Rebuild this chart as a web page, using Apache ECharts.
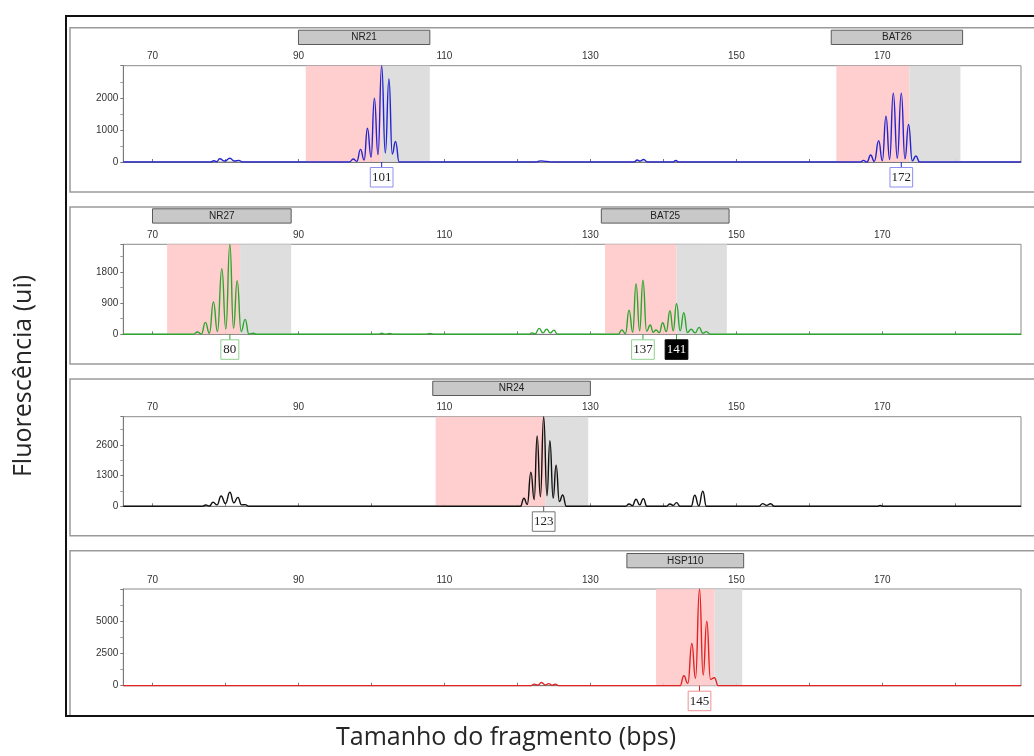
<!DOCTYPE html>
<html><head><meta charset="utf-8">
<script src="https://cdn.jsdelivr.net/npm/echarts@6/dist/echarts.min.js"></script>
<style>html,body{margin:0;padding:0;background:#fff}#c{width:1034px;height:756px}</style>
</head><body><div id="c"></div>
<script>
// ---- axis tick values ----
const xTickValues = [70, 80, 90, 100, 110, 120, 130, 140, 150, 160, 170, 180];
const xLabelValues = [70, 90, 110, 130, 150, 170];
const yMaxes = [3000, 2600, 3800, 7500];
const yIntervals = [1000, 900, 1300, 2500];

// ---- traces: [size (bp), fluorescence] ----
const blueTrace = [[66,0],[78,0],[78.4,40],[78.8,10],[79.2,100],[79.9,30],[80.6,115],[81.2,30],[81.8,50],[82.4,0],
  [97,0],[97.5,93],[98,20],[98.5,392],[99,60],[99.45,1052],[99.95,150],[100.4,1991],[100.9,230],[101.4,3000],[101.9,280],[102.4,2590],[102.85,250],[103.3,640],[103.8,0],
  [122.5,0],[123.2,35],[124,20],[124.6,0],[136,0],[136.4,60],[136.8,30],[137.3,80],[137.8,0],[141.3,0],[141.7,45],[142.1,0],
  [167,0],[167.4,50],[167.9,0],[168.4,217],[168.9,20],[169.5,660],[170,40],[170.5,1424],[171,80],[171.5,2146],[172.05,120],[172.6,2146],[173.1,100],[173.6,1166],[174.1,40],[174.6,186],[175.1,0],[189,0]];
const greenTrace = [[66,0],[75.6,0],[76.15,67],[76.7,5],[77.25,345],[77.8,30],[78.35,938],[78.9,80],[79.5,1895],[80.05,150],[80.6,2600],[81.1,170],[81.6,1551],[82.15,80],[82.7,431],[83.2,10],[83.8,30],[84.3,0],
  [101,0],[101.4,30],[101.9,0],[102.5,25],[103,0],[107.5,0],[108,25],[108.6,0],
  [121.6,0],[122,40],[122.4,10],[123,170],[123.5,40],[124,150],[124.5,40],[125,120],[125.5,0],
  [133.8,0],[134.3,124],[134.8,20],[135.3,699],[135.8,60],[136.25,1464],[136.75,100],[137.2,1560],[137.7,90],[138.2,268],[138.6,60],[139,124],[139.45,50],[139.9,335],[140.4,80],[140.9,680],[141.35,100],[141.8,890],[142.3,100],[142.8,622],[143.3,50],[143.8,144],[144.35,40],[144.9,201],[145.4,30],[145.9,77],[146.4,0],[189,0]];
const blackTrace = [[66,0],[76.8,0],[77.3,57],[77.8,10],[78.3,170],[78.85,60],[79.4,438],[80,120],[80.6,593],[81.15,150],[81.7,380],[82.2,60],[82.7,70],[83.2,0],
  [120.4,0],[120.9,340],[121.35,80],[121.85,1441],[122.3,280],[122.7,2981],[123.15,400],[123.6,3800],[124.05,450],[124.45,2783],[124.9,350],[125.3,1738],[125.75,200],[126.2,480],[126.7,0],
  [134.8,0],[135.3,100],[135.75,30],[136.25,297],[136.75,60],[137.25,325],[137.75,0],[140.4,0],[140.9,100],[141.35,40],[141.8,155],[142.3,0],
  [143.8,0],[144.3,466],[144.85,20],[145.4,636],[145.9,0],[153.1,0],[153.6,113],[154.15,40],[154.7,110],[155.2,0],[169.3,0],[169.7,40],[170.1,0],[189,0]];
const redTrace = [[66,0],[121.8,0],[122.3,120],[122.8,40],[123.3,250],[123.8,60],[124.3,160],[124.8,40],[125.2,120],[125.7,0],
  [142.3,0],[142.8,773],[143.35,180],[143.9,3273],[144.4,570],[144.95,7500],[145.45,825],[145.95,5000],[146.45,490],[147,620],[147.5,0],[189,0]];

// ---- bins: [start, end] ----
const pinkBins = [[[91,101.4],[163.7,173.7]], [[72,82],[132,141.8]], [[108.8,123.8]], [[139,147]]];
const grayBins = [[[101.4,108],[173.7,180.7]], [[82,89],[141.8,148.7]], [[123.8,129.7]], [[147,150.8]]];

// ---- marker names and ranges ----
const markerNames = [["NR21","BAT26"], ["NR27","BAT25"], ["NR24"], ["HSP110"]];
const markerRanges = [[[90,108],[163,181]], [[70,89],[131.5,149]], [[108.4,130]], [[135,151]]];

// ---- called allele labels ----
const alleleSizes = [[101.4,172.6], [80.6,137.2,141.8], [123.6], [144.95]];
const alleleTexts = [["101","172"], ["80","137","141"], ["123"], ["145"]];
const alleleInverse = [[false,false], [false,false,true], [false], [false]];

const traces = [blueTrace, greenTrace, blackTrace, redTrace];
const colors = ['#2424d0', '#2ea52e', '#111111', '#e02424'];
const boxColors = ['#8e8ef0', '#8fd08f', '#777777', '#f09090'];
const gridTops = [65.7, 244.3, 416.7, 589];
const gridHeights = [96.3, 90, 89.6, 96.7];
const frameTops = [27.7, 207, 379, 550.7];
const frameBottoms = [192, 364, 535.7, 715.7];

const grids = [], xAxes = [], yAxes = [], series = [], graphics = [];
for (let i = 0; i < 4; i++) {
  grids.push({left: 123.3, right: 13, top: gridTops[i], height: gridHeights[i], show: true, borderColor: '#8a8a8a', borderWidth: 1, backgroundColor: 'transparent'});
  xAxes.push({type: 'value', gridIndex: i, position: 'top', min: 66, max: 189,
    axisLine: {lineStyle: {color: '#7a7a7a', width: 1}},
    axisTick: {customValues: xTickValues, length: 3, lineStyle: {color: '#7a7a7a'}},
    axisLabel: {customValues: xLabelValues, fontSize: 10, color: '#333', margin: 4, fontFamily: 'Arial, Liberation Sans'},
    splitLine: {show: false}});
  yAxes.push({type: 'value', gridIndex: i, min: 0, max: yMaxes[i], interval: yIntervals[i],
    axisLine: {show: true, lineStyle: {color: '#7a7a7a', width: 1}},
    axisTick: {show: true, length: 3, lineStyle: {color: '#7a7a7a'}},
    minorTick: {show: true, splitNumber: 2, length: 3, lineStyle: {color: '#9a9a9a'}},
    axisLabel: {fontSize: 10, color: '#333', margin: 5, showMaxLabel: false, fontFamily: 'Arial, Liberation Sans', formatter: v => String(v)},
    splitLine: {show: false}});
  const areas = [];
  pinkBins[i].forEach(b => areas.push([{xAxis: b[0], itemStyle: {color: 'rgba(255,202,202,0.9)'}}, {xAxis: b[1]}]));
  grayBins[i].forEach(b => areas.push([{xAxis: b[0], itemStyle: {color: 'rgba(218,218,218,0.9)'}}, {xAxis: b[1]}]));
  series.push({type: 'line', xAxisIndex: i, yAxisIndex: i, data: traces[i], showSymbol: false,
    smooth: 0.5, smoothMonotone: 'x', lineStyle: {color: colors[i], width: 1.4}, z: 3,
    markArea: {silent: true, data: areas, z: 1}});
  // marker boxes
  const mNames = markerNames[i];
  series.push({type: 'custom', xAxisIndex: i, yAxisIndex: i, data: markerRanges[i].map(r => [r[0], r[1], 0]),
    encode: {x: [0, 1], y: 2}, clip: false, z: 5,
    renderItem: function (params, api) {
      const x1 = api.coord([api.value(0), 0])[0];
      const x2 = api.coord([api.value(1), 0])[0];
      const top = params.coordSys.y - 35.5;
      return {type: 'group', children: [
        {type: 'rect', shape: {x: x1, y: top, width: x2 - x1, height: 14.3}, style: {fill: '#c8c8c8', stroke: '#5a5a5a', lineWidth: 1}},
        {type: 'text', style: {x: (x1 + x2) / 2, y: top + 7.4, text: mNames[params.dataIndex], fill: '#222', font: '10px Arial, Liberation Sans', align: 'center', verticalAlign: 'middle'}}
      ]};
    }});
  // allele labels
  const aTexts = alleleTexts[i], aInv = alleleInverse[i], bc = boxColors[i], lc = colors[i];
  series.push({type: 'custom', xAxisIndex: i, yAxisIndex: i, data: alleleSizes[i].map(s => [s, 0]),
    encode: {x: 0, y: 1}, clip: false, z: 6,
    renderItem: function (params, api) {
      const p = api.coord([api.value(0), 0]);
      const t = aTexts[params.dataIndex];
      const inv = aInv[params.dataIndex];
      const w = t.length > 2 ? 22.7 : 18;
      return {type: 'group', children: [
        {type: 'line', shape: {x1: p[0], y1: p[1], x2: p[0], y2: p[1] + 5.5}, style: {stroke: lc === '#111111' ? '#555' : lc, lineWidth: 1}},
        {type: 'rect', shape: {x: p[0] - w / 2, y: p[1] + 5.5, width: w, height: 19.5}, style: {fill: inv ? '#000' : '#fff', stroke: inv ? '#000' : bc, lineWidth: 1}},
        {type: 'text', style: {x: p[0], y: p[1] + 15.5, text: t, fill: inv ? '#fff' : '#222', font: '13px "Liberation Serif", "Times New Roman", serif', align: 'center', verticalAlign: 'middle'}}
      ]};
    }});
  graphics.push({type: 'rect', shape: {x: 70, y: frameTops[i], width: 1000, height: frameBottoms[i] - frameTops[i]}, style: {fill: 'none', stroke: '#9a9a9a', lineWidth: 1.5}, z: 0});
}
graphics.push({type: 'rect', shape: {x: 66, y: 16, width: 1000, height: 700}, style: {fill: 'none', stroke: '#111', lineWidth: 2}, z: 10});
graphics.push({type: 'text', x: 24, y: 376, rotation: Math.PI / 2, style: {text: 'Fluorescência (ui)', font: '25px "Open Sans"', fill: '#262626', align: 'center', verticalAlign: 'middle'}});
graphics.push({type: 'text', x: 506, y: 738, style: {text: 'Tamanho do fragmento (bps)', font: '25px "Open Sans"', fill: '#262626', align: 'center', verticalAlign: 'middle'}});

const chart = echarts.init(document.getElementById('c'), null, {renderer: 'canvas'});
chart.setOption({animation: false, grid: grids, xAxis: xAxes, yAxis: yAxes, series: series, graphic: graphics});
</script></body></html>
